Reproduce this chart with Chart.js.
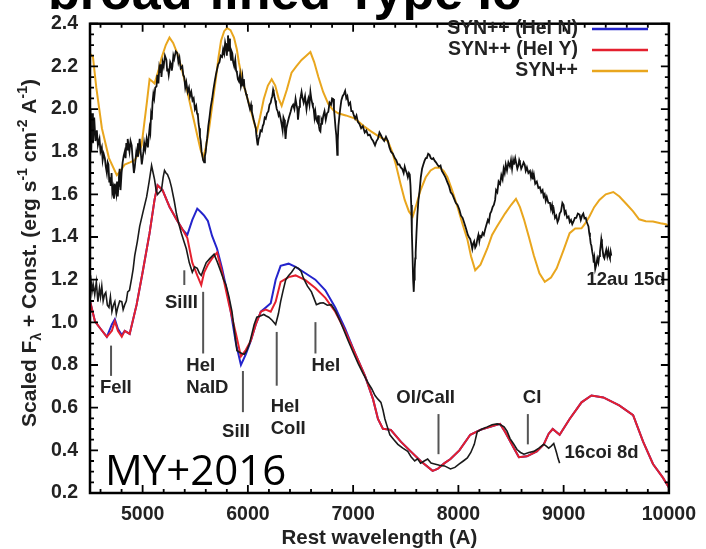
<!DOCTYPE html>
<html>
<head>
<meta charset="utf-8">
<script src="https://cdn.jsdelivr.net/npm/chart.js@4.4.1/dist/chart.umd.min.js"></script>
<style>
  html, body { margin: 0; padding: 0; background: #fff; }
  #wrap { width: 706px; height: 549px; position: relative; }
</style>
</head>
<body>
<div id="wrap"><canvas id="spec"></canvas></div>
<script>
// axis ticks
const xTicks = [5000, 6000, 7000, 8000, 9000, 10000];
const yTicks = [0.2, 0.4, 0.6, 0.8, 1.0, 1.2, 1.4, 1.6, 1.8, 2.0, 2.2, 2.4];

// SN 2012au, 15 d (upper observed spectrum) as [wavelength, flux]
const au12Spectrum = [[4505,2.0],[4512,1.80],[4520,1.98],[4528,1.84],[4540,1.96],[4552,1.85],[4565,1.90],[4575,1.83],[4590,1.86],[4600,1.80],[4612,1.82],[4620,1.76],[4630,1.79],[4641,1.77],[4650,1.73],[4660,1.70],[4668,1.75],[4675,1.74],[4683,1.66],[4690,1.68],[4697,1.64],[4705,1.70],[4712,1.61],[4720,1.63],[4728,1.58],[4736,1.65],[4743,1.62],[4750,1.60],[4757,1.66],[4764,1.59],[4770,1.64],[4775,1.68],[4782,1.72],[4790,1.62],[4800,1.70],[4810,1.75],[4820,1.78],[4830,1.80],[4838,1.77],[4845,1.84],[4852,1.81],[4858,1.86],[4866,1.83],[4875,1.80],[4885,1.85],[4896,1.83],[4903,1.78],[4910,1.74],[4917,1.70],[4925,1.726],[4932,1.76],[4940,1.80],[4948,1.78],[4955,1.84],[4963,1.81],[4972,1.86],[4978,1.82],[4985,1.78],[4992,1.74],[5000,1.77],[5008,1.80],[5015,1.84],[5025,1.81],[5038,1.86],[5044,1.84],[5050,1.82],[5058,1.87],[5066,1.91],[5073,1.89],[5080,1.97],[5087,1.95],[5094,2.03],[5102,2.07],[5110,2.05],[5120,2.10],[5132,2.106],[5140,2.16],[5150,2.12],[5158,2.19],[5165,2.17],[5172,2.21],[5179,2.15],[5190,2.22],[5200,2.20],[5212,2.25],[5226,2.23],[5233,2.18],[5240,2.19],[5248,2.16],[5255,2.185],[5262,2.22],[5270,2.21],[5277,2.18],[5283,2.20],[5292,2.25],[5300,2.235],[5315,2.27],[5330,2.262],[5340,2.22],[5350,2.24],[5362,2.19],[5377,2.20],[5386,2.16],[5395,2.15],[5405,2.10],[5415,2.125],[5428,2.08],[5440,2.10],[5450,2.06],[5462,2.08],[5474,2.04],[5485,2.05],[5497,2.00],[5509,2.015],[5517,1.98],[5525,1.97],[5532,1.93],[5538,1.91],[5545,1.87],[5552,1.85],[5560,1.80],[5566,1.785],[5575,1.76],[5585,1.75],[5592,1.78],[5600,1.80],[5607,1.84],[5613,1.86],[5624,1.92],[5635,1.96],[5647,2.01],[5660,2.047],[5672,2.09],[5685,2.13],[5696,2.16],[5707,2.185],[5718,2.21],[5730,2.22],[5742,2.25],[5755,2.244],[5765,2.28],[5775,2.26],[5784,2.31],[5792,2.29],[5800,2.25],[5806,2.30],[5811,2.345],[5816,2.31],[5820,2.27],[5825,2.33],[5830,2.30],[5835,2.25],[5840,2.23],[5846,2.27],[5852,2.262],[5860,2.22],[5870,2.20],[5880,2.23],[5888,2.18],[5896,2.17],[5905,2.14],[5915,2.13],[5925,2.16],[5934,2.106],[5941,2.12],[5948,2.15],[5955,2.11],[5962,2.14],[5968,2.10],[5975,2.09],[5983,2.07],[5990,2.06],[6000,2.04],[6010,2.02],[6020,2.00],[6030,2.02],[6038,1.987],[6046,1.97],[6055,1.95],[6065,1.93],[6075,1.91],[6080,1.88],[6085,1.86],[6090,1.84],[6094,1.83],[6102,1.86],[6110,1.87],[6120,1.90],[6132,1.895],[6141,1.92],[6150,1.93],[6160,1.96],[6170,1.955],[6182,1.98],[6195,1.99],[6205,2.02],[6217,2.03],[6225,2.05],[6232,2.06],[6240,2.09],[6245,2.08],[6252,2.06],[6260,2.04],[6267,2.02],[6274,2.0],[6283,1.99],[6292,1.97],[6300,1.98],[6311,1.955],[6320,1.93],[6330,1.90],[6338,1.96],[6345,1.95],[6352,1.90],[6358,1.86],[6366,1.91],[6375,1.93],[6390,1.96],[6406,1.987],[6418,2.01],[6430,2.02],[6442,2.00],[6453,2.047],[6462,2.02],[6470,2.00],[6476,1.95],[6480,1.97],[6488,2.01],[6495,2.04],[6503,2.06],[6510,2.08],[6520,2.05],[6530,2.03],[6543,2.06],[6557,2.0],[6565,2.03],[6575,2.05],[6585,2.02],[6594,2.08],[6602,2.05],[6610,2.03],[6618,2.01],[6625,2.00],[6633,1.96],[6641,1.987],[6650,1.95],[6660,1.94],[6668,1.97],[6675,1.92],[6682,1.90],[6689,1.895],[6695,1.93],[6700,1.95],[6708,1.94],[6717,1.97],[6728,1.99],[6740,1.95],[6752,1.98],[6764,1.987],[6776,2.03],[6790,2.02],[6800,2.05],[6811,2.047],[6818,2.00],[6825,1.96],[6833,1.91],[6840,1.877],[6845,1.83],[6849,1.785],[6854,1.85],[6860,1.92],[6868,1.96],[6877,2.0],[6888,2.04],[6900,2.06],[6912,2.07],[6924,2.085],[6935,2.05],[6945,2.06],[6958,2.02],[6972,2.03],[6983,1.99],[6995,1.99],[7007,1.97],[7019,1.955],[7032,1.97],[7045,1.94],[7060,1.93],[7076,1.91],[7092,1.92],[7110,1.89],[7125,1.90],[7142,1.877],[7158,1.88],[7175,1.86],[7190,1.85],[7208,1.83],[7222,1.85],[7235,1.86],[7250,1.89],[7264,1.877],[7280,1.86],[7295,1.85],[7312,1.87],[7330,1.85],[7345,1.82],[7360,1.80],[7378,1.79],[7396,1.77],[7410,1.76],[7425,1.74],[7440,1.74],[7453,1.726],[7466,1.72],[7480,1.70],[7490,1.73],[7500,1.712],[7510,1.70],[7520,1.68],[7530,1.70],[7538,1.693],[7545,1.64],[7552,1.55],[7558,1.42],[7565,1.30],[7570,1.20],[7576,1.143],[7580,1.20],[7585,1.25],[7590,1.30],[7594,1.327],[7602,1.42],[7610,1.50],[7620,1.57],[7632,1.62],[7643,1.68],[7655,1.72],[7667,1.74],[7679,1.758],[7690,1.77],[7700,1.77],[7713,1.79],[7726,1.785],[7738,1.77],[7750,1.765],[7762,1.77],[7774,1.758],[7787,1.75],[7800,1.74],[7815,1.73],[7830,1.735],[7843,1.71],[7855,1.70],[7866,1.69],[7877,1.68],[7893,1.66],[7910,1.64],[7927,1.61],[7943,1.60],[7959,1.58],[7975,1.56],[7992,1.55],[8009,1.529],[8025,1.50],[8040,1.49],[8053,1.47],[8066,1.45],[8078,1.43],[8090,1.41],[8100,1.40],[8113,1.39],[8122,1.37],[8132,1.345],[8141,1.37],[8150,1.38],[8160,1.35],[8170,1.36],[8180,1.39],[8190,1.41],[8199,1.38],[8208,1.405],[8219,1.40],[8230,1.42],[8242,1.41],[8255,1.437],[8268,1.46],[8280,1.48],[8290,1.47],[8302,1.51],[8313,1.52],[8325,1.54],[8337,1.55],[8349,1.574],[8358,1.62],[8370,1.61],[8382,1.66],[8396,1.648],[8408,1.69],[8420,1.67],[8430,1.72],[8440,1.70],[8450,1.74],[8462,1.712],[8475,1.75],[8490,1.73],[8500,1.76],[8510,1.72],[8520,1.76],[8528,1.74],[8540,1.77],[8550,1.745],[8560,1.72],[8570,1.735],[8578,1.76],[8585,1.749],[8597,1.72],[8610,1.735],[8620,1.75],[8630,1.74],[8640,1.71],[8651,1.726],[8665,1.70],[8680,1.71],[8690,1.68],[8700,1.70],[8708,1.67],[8717,1.693],[8730,1.65],[8745,1.66],[8760,1.63],[8774,1.634],[8787,1.61],[8800,1.62],[8810,1.59],[8820,1.60],[8830,1.57],[8840,1.588],[8855,1.56],[8870,1.56],[8880,1.53],[8890,1.55],[8898,1.52],[8906,1.529],[8918,1.49],[8930,1.50],[8942,1.47],[8953,1.483],[8962,1.51],[8975,1.52],[8988,1.56],[9000,1.55],[9010,1.51],[9020,1.52],[9033,1.49],[9047,1.496],[9058,1.47],[9070,1.48],[9082,1.46],[9094,1.473],[9107,1.49],[9120,1.49],[9135,1.51],[9151,1.505],[9163,1.48],[9175,1.50],[9187,1.51],[9198,1.487],[9210,1.49],[9220,1.47],[9228,1.46],[9236,1.45],[9243,1.42],[9250,1.40],[9257,1.37],[9264,1.359],[9272,1.33],[9280,1.31],[9286,1.28],[9292,1.30],[9300,1.25],[9310,1.27],[9320,1.30],[9330,1.28],[9338,1.31],[9345,1.33],[9352,1.36],[9358,1.39],[9364,1.37],[9370,1.34],[9378,1.31],[9387,1.30],[9395,1.32],[9405,1.34],[9415,1.31],[9425,1.336],[9433,1.31],[9440,1.30],[9447,1.33],[9453,1.313]];

// SYN++ fit to 12au
const synWave = [4500,4528,4560,4613,4680,4755,4790,4830,4880,4925,4960,4990,5015,5040,5066,5090,5113,5150,5180,5220,5255,5290,5330,5365,5396,5430,5462,5490,5519,5550,5575,5600,5632,5665,5698,5720,5745,5775,5802,5835,5868,5895,5915,5950,5990,6025,6057,6085,6115,6151,6190,6226,6260,6292,6321,6370,6415,6460,6510,6555,6594,6630,6670,6715,6764,6810,6858,6930,7019,7100,7170,7250,7330,7370,7406,7450,7490,7530,7566,7600,7641,7690,7736,7780,7821,7860,7896,7940,7991,8040,8085,8120,8160,8210,8274,8320,8368,8405,8443,8500,8547,8585,8623,8670,8717,8770,8821,8880,8934,9000,9057,9110,9170,9200,9245,9290,9340,9400,9472,9530,9594,9660,9717,9780,9849,9920,9972,10000];
const synFlux = [2.26,2.244,2.10,1.91,1.77,1.69,1.71,1.74,1.75,1.76,1.79,1.83,1.93,2.03,2.14,2.13,2.12,2.18,2.24,2.30,2.335,2.31,2.26,2.20,2.14,2.07,2.0,1.94,1.877,1.81,1.77,1.82,1.91,2.03,2.15,2.24,2.32,2.365,2.38,2.37,2.335,2.28,2.217,2.13,2.06,2.0,1.94,1.895,1.96,2.047,2.11,2.14,2.11,2.05,2.015,2.09,2.17,2.20,2.23,2.25,2.267,2.22,2.15,2.08,2.024,1.995,1.98,1.97,1.955,1.92,1.895,1.87,1.85,1.80,1.74,1.65,1.574,1.52,1.496,1.55,1.62,1.68,1.712,1.725,1.726,1.71,1.68,1.62,1.542,1.46,1.39,1.31,1.244,1.27,1.345,1.41,1.45,1.48,1.51,1.55,1.579,1.54,1.483,1.40,1.313,1.23,1.19,1.21,1.253,1.34,1.418,1.44,1.441,1.46,1.496,1.54,1.574,1.60,1.611,1.59,1.556,1.52,1.483,1.474,1.473,1.465,1.46,1.45];

// SN 2016coi, 8 d (lower observed spectrum)
const coiWave = [4505,4519,4530,4545,4560,4575,4590,4600,4612,4625,4638,4650,4665,4680,4694,4708,4722,4736,4750,4764,4782,4802,4815,4830,4845,4858,4875,4896,4910,4925,4950,4972,5005,5038,5062,5085,5100,5113,5128,5142,5160,5179,5195,5208,5222,5236,5255,5274,5300,5321,5345,5368,5392,5415,5443,5472,5495,5519,5540,5557,5580,5604,5640,5679,5712,5745,5770,5792,5820,5849,5872,5896,5920,5943,5966,5990,6015,6038,6060,6085,6118,6151,6175,6198,6230,6264,6290,6311,6335,6360,6388,6415,6450,6481,6505,6528,6566,6604,6630,6651,6685,6717,6755,6792,6835,6877,6915,6953,7000,7047,7095,7142,7175,7208,7236,7264,7283,7302,7325,7349,7387,7425,7472,7519,7550,7585,7612,7641,7675,7708,7740,7774,7820,7868,7896,7925,7967,8009,8047,8085,8118,8151,8179,8225,8274,8320,8368,8400,8434,8462,8491,8525,8557,8590,8623,8670,8717,8765,8811,8835,8858,8882,8906,8920,8934,8948,8962];
const coiFlux = [1.22,1.143,1.18,1.13,1.19,1.097,1.16,1.12,1.17,1.10,1.13,1.14,1.08,1.07,1.12,1.05,1.08,1.097,1.04,1.07,1.10,1.097,1.06,1.083,1.10,1.143,1.15,1.207,1.25,1.313,1.38,1.45,1.52,1.588,1.66,1.735,1.70,1.67,1.62,1.60,1.61,1.62,1.68,1.712,1.70,1.693,1.67,1.634,1.57,1.51,1.46,1.418,1.38,1.345,1.28,1.235,1.26,1.253,1.23,1.22,1.25,1.28,1.30,1.32,1.28,1.235,1.20,1.175,1.12,1.05,0.96,0.868,0.86,0.854,0.85,0.868,0.90,0.946,0.99,1.024,1.03,1.037,1.03,1.024,1.01,0.99,1.04,1.097,1.15,1.20,1.22,1.235,1.26,1.253,1.24,1.207,1.17,1.143,1.11,1.083,1.09,1.092,1.08,1.083,1.05,1.005,0.96,0.914,0.86,0.808,0.76,0.716,0.69,0.657,0.64,0.625,0.59,0.547,0.51,0.473,0.45,0.428,0.41,0.395,0.37,0.35,0.36,0.34,0.35,0.359,0.34,0.336,0.33,0.327,0.32,0.313,0.32,0.336,0.35,0.364,0.39,0.428,0.487,0.50,0.51,0.52,0.524,0.52,0.51,0.49,0.455,0.43,0.404,0.39,0.382,0.39,0.395,0.41,0.428,0.42,0.41,0.42,0.432,0.41,0.386,0.36,0.34];

// SYN++ fits to 16coi, with and without He I
const modelWave = [4500,4547,4600,4660,4708,4736,4765,4802,4830,4877,4943,5000,5066,5113,5142,5189,5255,5321,5377,5425,5472,5519,5557,5585,5620,5660,5707,5755,5821,5887,5934,5980,6028,6075,6123,6170,6217,6264,6311,6387,6453,6547,6641,6736,6830,6924,7019,7113,7189,7236,7283,7358,7453,7547,7641,7755,7802,7868,7925,8009,8113,8208,8302,8396,8443,8528,8575,8651,8745,8811,8858,8896,8962,9057,9170,9264,9377,9528,9660,9755,9849,9943,10000];
const helYFlux = [1.10,1.005,0.97,0.932,0.96,1.005,0.96,0.932,0.96,0.946,1.083,1.235,1.418,1.574,1.643,1.62,1.542,1.483,1.437,1.395,1.28,1.22,1.175,1.235,1.27,1.30,1.327,1.235,1.083,0.946,0.84,0.87,0.914,0.99,1.05,1.06,1.05,1.097,1.19,1.212,1.22,1.198,1.161,1.115,1.05,0.96,0.854,0.749,0.64,0.547,0.501,0.496,0.441,0.395,0.35,0.304,0.313,0.34,0.359,0.40,0.473,0.496,0.51,0.524,0.487,0.41,0.368,0.372,0.395,0.428,0.478,0.50,0.473,0.547,0.625,0.657,0.648,0.611,0.565,0.441,0.336,0.272,0.226];
const helNFlux = [1.10,1.005,0.97,0.932,0.99,1.015,0.97,0.94,0.96,0.946,1.083,1.235,1.418,1.574,1.643,1.62,1.542,1.483,1.437,1.41,1.48,1.533,1.515,1.50,1.475,1.405,1.345,1.253,1.10,0.90,0.80,0.85,0.914,0.99,1.05,1.07,1.09,1.20,1.265,1.275,1.26,1.23,1.20,1.15,1.07,0.97,0.854,0.749,0.64,0.547,0.501,0.496,0.441,0.395,0.35,0.304,0.313,0.34,0.359,0.40,0.473,0.496,0.51,0.524,0.487,0.41,0.368,0.372,0.395,0.428,0.478,0.50,0.473,0.547,0.625,0.657,0.648,0.611,0.565,0.441,0.336,0.272,0.226];

// line identifications: wavelength of the tick, tick top/bottom flux, label lines
const featureMarks = [
  { wl: 4700, top: 0.891, bottom: 0.749, text: ['FeII'], lx: 4594, ly: 0.694, align: 'left' },
  { wl: 5396, top: 1.244, bottom: 1.175, text: ['SiIII'], lx: 5368, ly: 1.093, align: 'center' },
  { wl: 5575, top: 1.143, bottom: 0.854, text: ['HeI', 'NaID'], lx: 5415, ly: 0.795, align: 'left' },
  { wl: 5953, top: 0.772, bottom: 0.579, text: ['SiII'], lx: 5755, ly: 0.487, align: 'left' },
  { wl: 6274, top: 0.955, bottom: 0.703, text: ['HeI', 'CoII'], lx: 6217, ly: 0.602, align: 'left' },
  { wl: 6642, top: 1.001, bottom: 0.854, text: ['HeI'], lx: 6604, ly: 0.795, align: 'left' },
  { wl: 7811, top: 0.570, bottom: 0.382, text: ['OI/CaII'], lx: 7689, ly: 0.648, align: 'center' },
  { wl: 8660, top: 0.570, bottom: 0.428, text: ['CI'], lx: 8700, ly: 0.648, align: 'center' }
];
const spectrumTags = [
  { text: '12au 15d', lx: 9217, ly: 1.198 },
  { text: '16coi 8d', lx: 9009, ly: 0.386 }
];

const legendItems = [
  { text: 'SYN++ (HeI N)', color: '#2424cc' },
  { text: 'SYN++ (HeI Y)', color: '#e4202e' },
  { text: 'SYN++', color: '#e9a61e' }
];

const toPoints = (w, f) => w.map((v, i) => ({ x: v, y: f[i] }));
const BOLD = '"Liberation Sans", Arial, Helvetica, sans-serif';

const decorations = {
  id: 'decorations',
  afterDatasetsDraw(chart) {
    const { ctx, scales: { x, y } } = chart;
    ctx.save();
    ctx.strokeStyle = '#555';
    ctx.lineWidth = 2;
    featureMarks.forEach(m => {
      const px = x.getPixelForValue(m.wl);
      ctx.beginPath();
      ctx.moveTo(px, y.getPixelForValue(m.top));
      ctx.lineTo(px, y.getPixelForValue(m.bottom));
      ctx.stroke();
    });
    ctx.fillStyle = '#222';
    ctx.font = 'bold 18.5px ' + BOLD;
    ctx.textBaseline = 'middle';
    featureMarks.forEach(m => {
      ctx.textAlign = m.align;
      const px = x.getPixelForValue(m.lx);
      const py = y.getPixelForValue(m.ly);
      m.text.forEach((t, i) => ctx.fillText(t, px, py + i * 22));
    });
    ctx.textAlign = 'left';
    spectrumTags.forEach(t => ctx.fillText(t.text, x.getPixelForValue(t.lx), y.getPixelForValue(t.ly)));
    ctx.restore();
  },
  afterDraw(chart) {
    const { ctx, chartArea: a, scales: { x, y } } = chart;
    ctx.save();
    // frame
    ctx.strokeStyle = '#000';
    ctx.lineWidth = 2.5;
    ctx.strokeRect(a.left, a.top, a.right - a.left, a.bottom - a.top);
    // inward ticks on all four sides
    ctx.lineWidth = 1.8;
    ctx.beginPath();
    for (let v = 4600; v <= 10000; v += 200) {
      const px = x.getPixelForValue(v);
      const len = v % 1000 === 0 ? 8 : 4;
      ctx.moveTo(px, a.bottom); ctx.lineTo(px, a.bottom - len);
      ctx.moveTo(px, a.top); ctx.lineTo(px, a.top + len);
    }
    for (let k = 0; k <= 44; k++) {
      const v = 0.2 + k * 0.05;
      const py = y.getPixelForValue(v);
      const len = k % 4 === 0 ? 8 : 4;
      ctx.moveTo(a.left, py); ctx.lineTo(a.left + len, py);
      ctx.moveTo(a.right, py); ctx.lineTo(a.right - len, py);
    }
    ctx.stroke();

    // legend, gnuplot style: text then sample line
    ctx.font = 'bold 19.5px ' + BOLD;
    ctx.textAlign = 'right';
    ctx.textBaseline = 'middle';
    legendItems.forEach((it, i) => {
      const ly = 29 + i * 21;
      ctx.fillStyle = '#222';
      ctx.fillText(it.text, 578, ly);
      ctx.strokeStyle = it.color;
      ctx.lineWidth = 2.5;
      ctx.beginPath();
      ctx.moveTo(592, ly);
      ctx.lineTo(648, ly);
      ctx.stroke();
    });

    // x axis title
    ctx.fillStyle = '#222';
    ctx.textAlign = 'center';
    ctx.textBaseline = 'alphabetic';
    ctx.font = 'bold 20.5px ' + BOLD;
    ctx.fillText('Rest wavelength (A)', (a.left + a.right) / 2, 544);

    // y axis title with sub/superscripts
    const parts = [
      ['Scaled F', 0], ['\u03bb', 1], [' + Const. (erg s', 0], ['-1', -1],
      [' cm', 0], ['-2', -1], [' A', 0], ['-1', -1], [')', 0]
    ];
    const big = 'bold 21px ' + BOLD, small = 'bold 14px ' + BOLD;
    let total = 0;
    parts.forEach(p => { ctx.font = p[1] ? small : big; total += ctx.measureText(p[0]).width; });
    ctx.translate(36, 253);
    ctx.rotate(-Math.PI / 2);
    ctx.textAlign = 'left';
    let cx = -total / 2;
    parts.forEach(p => {
      ctx.font = p[1] ? small : big;
      const dy = p[1] === 1 ? 5 : p[1] === -1 ? -9 : 0;
      ctx.fillText(p[0], cx, dy);
      cx += ctx.measureText(p[0]).width;
    });
    ctx.setTransform(1, 0, 0, 1, 0, 0);

    // slide overlay text
    ctx.textAlign = 'left';
    ctx.fillStyle = '#000';
    ctx.font = 'bold 52px ' + BOLD;
    ctx.fillText('broad-lined Type Ic', 48, 9, 489);
    ctx.font = '42px "Open Sans", "Liberation Sans", sans-serif';
    ctx.fillText('MY+2016', 105, 485);
    ctx.restore();
  }
};

new Chart(document.getElementById('spec'), {
  type: 'line',
  data: {
    datasets: [
      { label: '12au 15d', data: au12Spectrum.map(p => ({ x: p[0], y: p[1] })), borderColor: '#111', borderWidth: 1.8, order: 1 },
      { label: 'SYN++', data: toPoints(synWave, synFlux), borderColor: '#e9a61e', borderWidth: 2, order: 2 },
      { label: '16coi 8d', data: toPoints(coiWave, coiFlux), borderColor: '#1a1a1a', borderWidth: 1.6, order: 3 },
      { label: 'SYN++ (HeI Y)', data: toPoints(modelWave, helYFlux), borderColor: '#e4202e', borderWidth: 2, order: 4 },
      { label: 'SYN++ (HeI N)', data: toPoints(modelWave, helNFlux), borderColor: '#2424cc', borderWidth: 2, order: 5 }
    ]
  },
  options: {
    responsive: true,
    maintainAspectRatio: false,
    animation: false,
    devicePixelRatio: 1,
    layout: { padding: { top: 13, right: 33, left: 0, bottom: 0 } },
    elements: { point: { radius: 0 }, line: { tension: 0, fill: false } },
    plugins: { legend: { display: false }, tooltip: { enabled: false } },
    scales: {
      x: {
        type: 'linear', min: 4500, max: 10000,
        grid: { display: false, drawTicks: false },
        border: { display: false },
        ticks: { color: '#222', font: { family: BOLD, size: 19.5, weight: 'bold' }, padding: 10, maxRotation: 0, callback: v => String(v) },
        afterBuildTicks: s => { s.ticks = xTicks.map(v => ({ value: v })); },
        afterFit: s => { s.height = 56; }
      },
      y: {
        type: 'linear', min: 0.2, max: 2.4,
        grid: { display: false, drawTicks: false },
        border: { display: false },
        ticks: { color: '#222', font: { family: BOLD, size: 19.5, weight: 'bold' }, padding: 12, callback: v => v.toFixed(1) },
        afterBuildTicks: s => { s.ticks = yTicks.map(v => ({ value: v })); },
        afterFit: s => { s.width = 90; }
      }
    }
  },
  plugins: [decorations]
});
</script>
</body>
</html>
